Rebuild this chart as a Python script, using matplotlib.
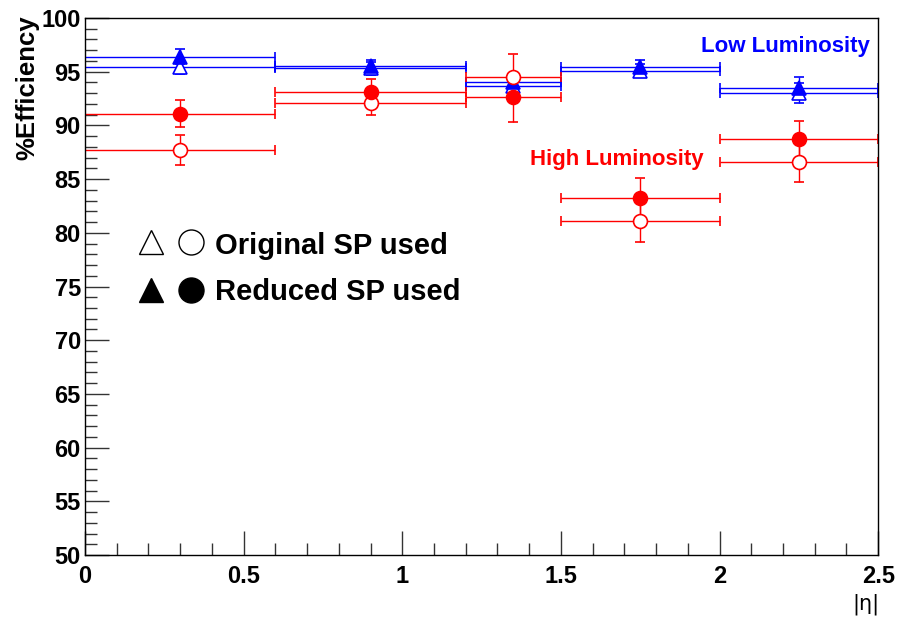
import matplotlib
matplotlib.use("Agg")
import matplotlib.pyplot as plt
from matplotlib.ticker import MultipleLocator
import numpy as np

# bins in |eta|
bin_lo = [0.0, 0.6, 1.2, 1.5, 2.0]
bin_hi = [0.6, 1.2, 1.5, 2.0, 2.5]

# Low luminosity (blue)
low_orig = [95.4, 95.3, 93.7, 95.1, 93.0]
low_orig_err = [0.6, 0.6, 0.5, 0.6, 0.9]
low_red = [96.4, 95.5, 94.0, 95.4, 93.5]
low_red_err = [0.7, 0.6, 0.5, 0.7, 1.0]

# High luminosity (red)
high_orig = [87.7, 92.1, 94.5, 81.1, 86.6]
high_orig_err = [1.4, 1.1, 2.1, 2.0, 1.85]
high_red = [91.1, 93.1, 92.6, 83.2, 88.7]
high_red_err = [1.25, 1.2, 2.3, 1.9, 1.7]

xc = [(a + b) / 2 for a, b in zip(bin_lo, bin_hi)]
xw = [(b - a) / 2 for a, b in zip(bin_lo, bin_hi)]

plt.rcParams['font.family'] = ['Liberation Sans', 'DejaVu Sans']
plt.rcParams['font.weight'] = 'bold'

fig = plt.figure(figsize=(8.97, 6.2), dpi=100)
ax = fig.add_axes([0.0948, 0.1048, 0.979 - 0.0948, 0.971 - 0.1048])

BLUE = '#0000ff'
RED = '#ff0000'
common = dict(linestyle='none', elinewidth=1.0, capsize=3.5, capthick=1.0, markeredgewidth=1.2)

ax.errorbar(xc, low_orig, xerr=xw, yerr=low_orig_err, fmt='^', color=BLUE,
            mfc='white', mec=BLUE, ms=10, **common)
ax.errorbar(xc, low_red, xerr=xw, yerr=low_red_err, fmt='^', color=BLUE,
            mfc=BLUE, mec=BLUE, ms=10, **common)
ax.errorbar(xc, high_orig, xerr=xw, yerr=high_orig_err, fmt='o', color=RED,
            mfc='white', mec=RED, ms=10, **common)
ax.errorbar(xc, high_red, xerr=xw, yerr=high_red_err, fmt='o', color=RED,
            mfc=RED, mec=RED, ms=10, **common)

ax.set_xlim(0, 2.5)
ax.set_ylim(50, 100)
ax.xaxis.set_major_locator(MultipleLocator(0.5))
ax.xaxis.set_minor_locator(MultipleLocator(0.1))
ax.yaxis.set_major_locator(MultipleLocator(5))
ax.yaxis.set_minor_locator(MultipleLocator(1))
ax.tick_params(which='both', direction='in', top=False, right=False, color='#333333', width=1)
ax.tick_params(which='major', length=17, labelsize=17)
ax.tick_params(axis='x', which='major', pad=7)
ax.tick_params(axis='y', which='major', pad=3)
ax.tick_params(which='minor', length=8.5)
ax.set_xticks([0, 0.5, 1, 1.5, 2, 2.5])
ax.set_xticklabels(['0', '0.5', '1', '1.5', '2', '2.5'], fontweight='bold')
ax.set_yticks(np.arange(50, 101, 5))
ax.set_yticklabels([str(v) for v in range(50, 101, 5)], fontweight='bold')
for s in ax.spines.values():
    s.set_linewidth(1.0)
    s.set_color('black')

fig.text(0.031, 0.975, '%Efficiency', rotation=90, ha='center', va='top',
         fontsize=18.5, fontweight='bold')
fig.text(0.965, 0.008, '|η|', ha='center', va='bottom', fontsize=15,
         fontweight='normal', family=['DejaVu Sans'])

ax.text(0.989, 0.946, 'Low Luminosity', transform=ax.transAxes, ha='right', va='center',
        fontsize=16, fontweight='bold', color=BLUE)
ax.text(0.78, 0.737, 'High Luminosity', transform=ax.transAxes, ha='right', va='center',
        fontsize=16, fontweight='bold', color=RED)

# legend-like annotation
ax.plot([0.083], [0.582], transform=ax.transAxes, marker='^', ms=17, mfc='white',
        mec='black', mew=1.0, linestyle='none', clip_on=False)
ax.plot([0.133], [0.582], transform=ax.transAxes, marker='o', ms=18, mfc='white',
        mec='black', mew=1.0, linestyle='none', clip_on=False)
ax.plot([0.083], [0.494], transform=ax.transAxes, marker='^', ms=17, mfc='black',
        mec='black', mew=1.0, linestyle='none', clip_on=False)
ax.plot([0.133], [0.494], transform=ax.transAxes, marker='o', ms=18, mfc='black',
        mec='black', mew=1.0, linestyle='none', clip_on=False)
ax.text(0.164, 0.576, 'Original SP used', transform=ax.transAxes, ha='left', va='center',
        fontsize=21, fontweight='bold')
ax.text(0.164, 0.489, 'Reduced SP used', transform=ax.transAxes, ha='left', va='center',
        fontsize=21, fontweight='bold')

fig.savefig('out.png', dpi=100)
